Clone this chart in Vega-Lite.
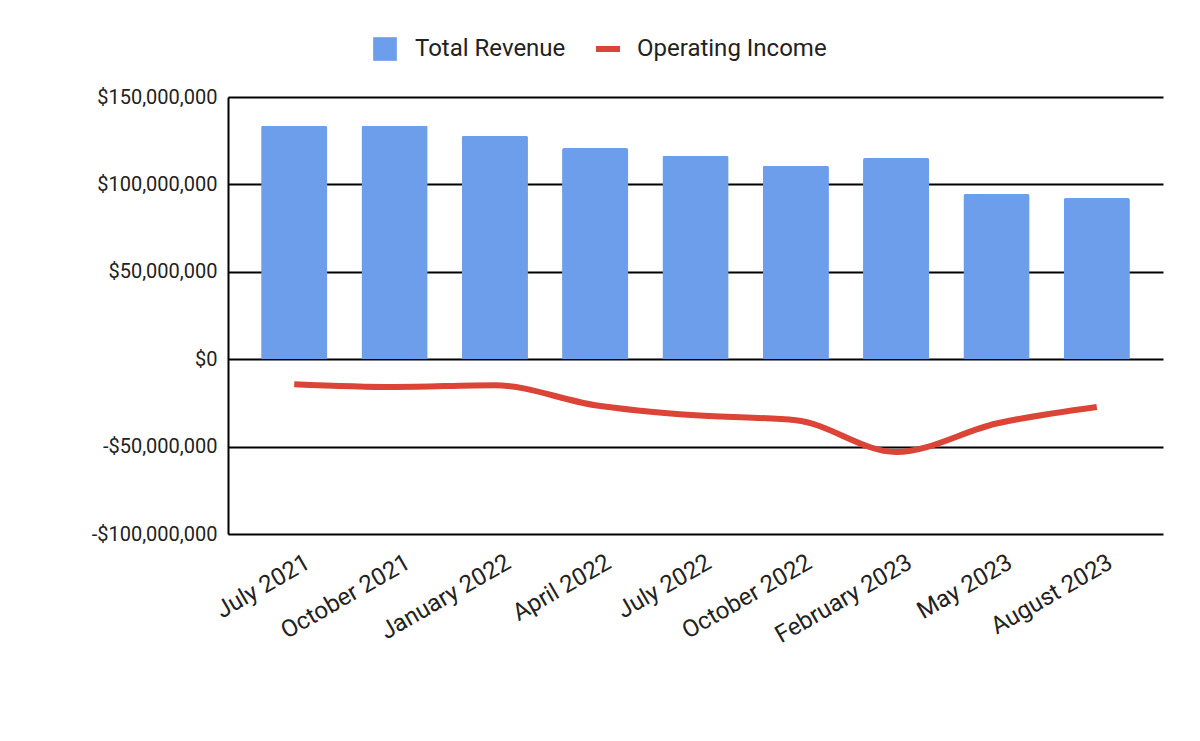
{
  "$schema": "https://vega.github.io/schema/vega-lite/v6.json",
  "width": 935,
  "height": 437,
  "autosize": {"type": "none"},
  "padding": {"left": 228, "top": 97, "right": 37, "bottom": 207},
  "background": "white",
  "config": {
    "font": "Roboto",
    "view": {"stroke": null},
    "legend": {"padding": 0, "labelLimit": 400}
  },
  "data": {
    "values": [
      {"month": "July 2021", "revenue": 133600000, "income": -14300000},
      {"month": "October 2021", "revenue": 133500000, "income": -15900000},
      {"month": "January 2022", "revenue": 127900000, "income": -14900000},
      {"month": "April 2022", "revenue": 120800000, "income": -26300000},
      {"month": "July 2022", "revenue": 116400000, "income": -32100000},
      {"month": "October 2022", "revenue": 110700000, "income": -34900000},
      {"month": "February 2023", "revenue": 115100000, "income": -53100000},
      {"month": "May 2023", "revenue": 94500000, "income": -36800000},
      {"month": "August 2023", "revenue": 92200000, "income": -27300000}
    ]
  },
  "encoding": {
    "x": {
      "field": "month",
      "type": "ordinal",
      "sort": null,
      "scale": {"paddingInner": 0.34, "paddingOuter": 0.33},
      "axis": {
        "title": null,
        "domain": false,
        "ticks": false,
        "labelAngle": -30,
        "labelFontSize": 24,
        "labelColor": "#222222",
        "labelPadding": 16,
        "labelOffset": 8
      }
    }
  },
  "layer": [
    {
      "mark": {"type": "bar", "cornerRadiusTopLeft": 2, "cornerRadiusTopRight": 2},
      "encoding": {
        "y": {
          "field": "revenue",
          "type": "quantitative",
          "scale": {"domain": [-100000000, 150000000], "nice": false, "zero": false},
          "axis": {
            "title": null,
            "domain": true,
            "domainColor": "#000000",
            "domainWidth": 2,
            "ticks": false,
            "grid": true,
            "gridColor": "#000000",
            "gridWidth": 2,
            "gridOpacity": 1,
            "values": [-100000000, -50000000, 0, 50000000, 100000000, 150000000],
            "labelExpr": "(datum.value < 0 ? '-' : '') + '$' + format(abs(datum.value), ',')",
            "labelFontSize": 20,
            "labelColor": "#222222",
            "labelPadding": 11
          }
        },
        "fill": {
          "datum": "Total Revenue",
          "type": "nominal",
          "scale": {"range": ["#6d9eeb"]},
          "legend": {
            "title": null,
            "orient": "none",
            "legendX": 145,
            "legendY": -60,
            "symbolType": "square",
            "symbolSize": 560,
            "symbolStrokeWidth": 0,
            "labelFontSize": 24,
            "labelColor": "#222222",
            "labelOffset": 18,
            "labelLimit": 400
          }
        }
      }
    },
    {
      "mark": {"type": "line", "interpolate": "monotone", "strokeWidth": 6, "color": "#db4437"},
      "encoding": {
        "y": {"field": "income", "type": "quantitative"},
        "stroke": {
          "datum": "Operating Income",
          "type": "nominal",
          "scale": {"range": ["#db4437"]},
          "legend": {
            "title": null,
            "orient": "none",
            "legendX": 365,
            "legendY": -63,
            "symbolType": "stroke",
            "symbolSize": 576,
            "symbolStrokeWidth": 6,
            "labelFontSize": 24,
            "labelColor": "#222222",
            "labelOffset": 14,
            "labelLimit": 400
          }
        }
      }
    }
  ]
}
